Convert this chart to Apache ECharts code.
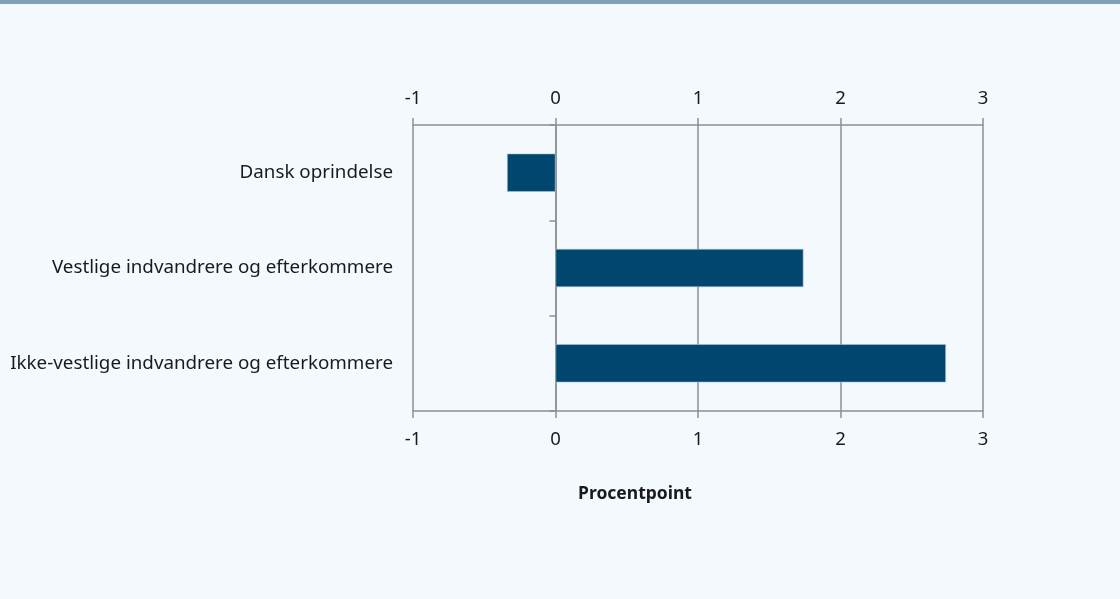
<!DOCTYPE html>
<html><head><meta charset="utf-8">
<script src="https://cdn.jsdelivr.net/npm/echarts@6/dist/echarts.min.js"></script>
<style>html,body{margin:0;padding:0;background:#f4f9fd;}#c{width:1120px;height:599px;}</style>
</head><body><div id="c"></div>
<script>
var categories = ['Dansk oprindelse', 'Vestlige indvandrere og efterkommere', 'Ikke-vestlige indvandrere og efterkommere'];
var values = [-0.34, 1.74, 2.74];
var axisTitle = 'Procentpoint';
var gray = '#8f8f8f';
var font = '"Noto Sans", sans-serif';
var chart = echarts.init(document.getElementById('c'));
var xCommon = {
  type: 'value', min: -1, max: 3, interval: 1,
  axisLine: { show: true, onZero: false, lineStyle: { color: gray, width: 1.5 } },
  axisTick: { show: true, length: 7, lineStyle: { color: gray, width: 1.5 } },
  axisLabel: { color: '#1a1a1a', fontSize: 18.5, fontFamily: font, margin: 17 },
  splitLine: { show: true, lineStyle: { color: gray, width: 1.5 } }
};
chart.setOption({
  backgroundColor: '#f4f9fd',
  graphic: [{ type: 'rect', left: 0, top: 0, shape: { width: 1120, height: 4 }, style: { fill: '#7fa1b8' } }],
  title: { text: axisTitle, left: 630, top: 480, textAlign: 'center',
    textStyle: { fontSize: 17.5, fontWeight: 'bold', color: '#1a1a1a', fontFamily: font } },
  grid: { left: 413, right: 137, top: 125, bottom: 188, containLabel: false },
  xAxis: [
    Object.assign({}, xCommon, { position: 'top' }),
    Object.assign({}, xCommon, { position: 'bottom', splitLine: { show: false },
      axisLabel: { color: '#1a1a1a', fontSize: 18.5, fontFamily: font, margin: 19 } })
  ],
  yAxis: [
    { type: 'category', data: categories, inverse: true,
      axisLine: { show: false }, axisTick: { show: false },
      axisLabel: { color: '#1a1a1a', fontSize: 18.8, fontFamily: font, margin: 20 } },
    { type: 'category', data: categories, inverse: true, position: 'left',
      axisLine: { show: true, onZero: true, onZeroAxisIndex: 0, lineStyle: { color: gray, width: 1.5 } },
      axisTick: { show: true, length: 6, lineStyle: { color: gray, width: 1.5 } },
      axisLabel: { show: false } }
  ],
  series: [{
    type: 'bar', data: values, xAxisIndex: 0, yAxisIndex: 0, barWidth: '40%',
    itemStyle: { color: '#00466e', borderColor: '#a9c4d8', borderWidth: 0.6 },
    animation: false
  }],
  animation: false
});
</script></body></html>
